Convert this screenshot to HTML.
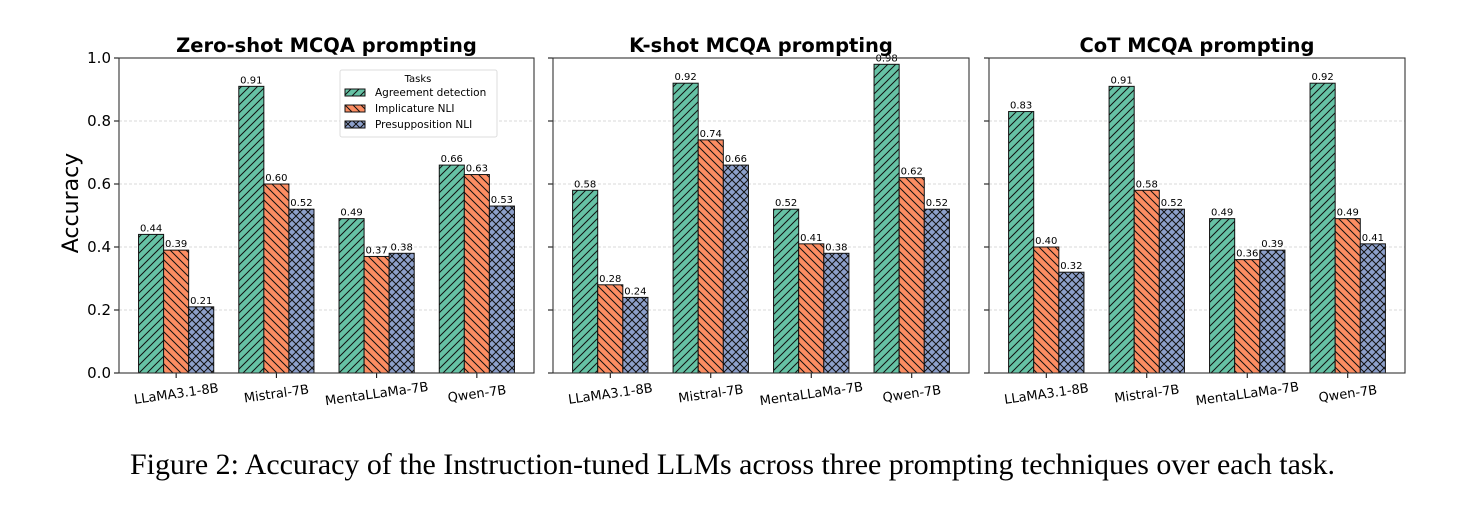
<!DOCTYPE html>
<html><head><meta charset="utf-8"><style>
body{margin:0;background:#fff;width:1459px;height:511px;overflow:hidden}
svg text{font-family:"DejaVu Sans","Liberation Sans",sans-serif}
</style></head><body>
<svg id="c" width="1459" height="511" xmlns="http://www.w3.org/2000/svg">
<defs>
<pattern id="hg" width="8" height="8" patternUnits="userSpaceOnUse"><rect width="8" height="8" fill="#66c2a5"/><path d="M-2,2 L2,-2 M0,8 L8,0 M6,10 L10,6" stroke="#111" stroke-width="1"/></pattern>
<pattern id="ho" width="8" height="8" patternUnits="userSpaceOnUse"><rect width="8" height="8" fill="#fc8d62"/><path d="M-2,6 L2,10 M0,0 L8,8 M6,-2 L10,2" stroke="#111" stroke-width="1"/></pattern>
<pattern id="hb" width="8" height="8" patternUnits="userSpaceOnUse"><rect width="8" height="8" fill="#8da0cb"/><path d="M0,0 L8,8 M0,8 L8,0" stroke="#111" stroke-width="1"/></pattern>
</defs>
</svg>
<script>
const models=["LLaMA3.1-8B","Mistral-7B","MentaLLaMa-7B","Qwen-7B"];
const tasks=["Agreement detection","Implicature NLI","Presupposition NLI"];
const panelTitles=["Zero-shot MCQA prompting","K-shot MCQA prompting","CoT MCQA prompting"];
const zeroShot=[[0.44,0.91,0.49,0.66],[0.39,0.60,0.37,0.63],[0.21,0.52,0.38,0.53]];
const kShot=[[0.58,0.92,0.52,0.98],[0.28,0.74,0.41,0.62],[0.24,0.66,0.38,0.52]];
const cot=[[0.83,0.91,0.49,0.92],[0.40,0.58,0.36,0.49],[0.32,0.52,0.39,0.41]];
const yTicks=[0,0.2,0.4,0.6,0.8,1.0];
const data=[zeroShot,kShot,cot];
const fills=["url(#hg)","url(#ho)","url(#hb)"];
const svg=document.getElementById('c');const NS="http://www.w3.org/2000/svg";
function mk(t,a,p){const e=document.createElementNS(NS,t);for(const k in a)e.setAttribute(k,a[k]);(p||svg).appendChild(e);return e;}
const panelX=[[119,534],[553,969],[989,1405]];
const yTop=58,yBot=373;
const yS=v=>yBot-(yBot-yTop)*v;
panelX.forEach((px,pi)=>{
 const g=mk('g',{});
 
 
 const w=px[1]-px[0];
 const xS=v=>px[0]+(v+0.57)/4.14*w;
 const bw=0.25/4.14*w;
 yTicks.forEach(t=>{
  const l=mk('line',{x1:px[0],x2:px[1],y1:yS(t),y2:yS(t),stroke:'#ccc','stroke-width':0.8,'stroke-dasharray':'3,2'},g);
  
  
  mk('line',{x1:px[0]-5,x2:px[0],y1:yS(t),y2:yS(t),stroke:'#000','stroke-width':1},g);
  if(pi===0){const tx=mk('text',{x:px[0]-8,y:yS(t)+5,'text-anchor':'end','font-size':15},g);tx.textContent=t.toFixed(1);
   
   }
 });
 data[pi].forEach((ser,si)=>{
  ser.forEach((v,mi)=>{
   const cx=xS(mi+(si-1)*0.25);
   const r=mk('rect',{x:cx-bw/2,y:yS(v),width:bw,height:yBot-yS(v),fill:fills[si],stroke:'#111','stroke-width':1},g);
   
   
   const t=mk('text',{x:cx,y:yS(v)-3,'text-anchor':'middle','font-size':10},g);t.textContent=v.toFixed(2);
   
   
  });
 });
 models.forEach((m,mi)=>{
  const x=xS(mi);
  mk('line',{x1:x,x2:x,y1:yBot,y2:yBot+5,stroke:'#000'},g);
  const t=mk('text',{x:x,y:yBot+25,'text-anchor':'middle','font-size':13,transform:`rotate(-8 ${x} ${yBot+20})`},g);t.textContent=m;
  
  
 });
 mk('rect',{x:px[0],y:yTop,width:w,height:yBot-yTop,fill:'none',stroke:'#333','stroke-width':1.1},g);
 const tt=mk('text',{x:(px[0]+px[1])/2,y:52,'text-anchor':'middle','font-size':19.5,'font-weight':'bold'},g);tt.textContent=panelTitles[pi];
 
 
});
const yl=mk('text',{x:78,y:203,'text-anchor':'middle','font-size':22,transform:'rotate(-90 78 203)'});yl.textContent='Accuracy';


const lg=mk('g',{});


mk('rect',{x:340,y:70,width:157,height:67,fill:'#fff',stroke:'#ddd',rx:2},lg);
const lt=mk('text',{x:418,y:82,'text-anchor':'middle','font-size':10},lg);lt.textContent='Tasks';
tasks.forEach((t,i)=>{
 const y=89+i*16;
 const e=mk('g',{},lg);
 
 
 mk('rect',{x:345,y:y,width:20,height:7,fill:fills[i],stroke:'#111','stroke-width':1},e);
 const tx=mk('text',{x:375,y:y+7,'font-size':10.5},e);tx.textContent=t;
});
const cap=mk('text',{x:130,y:474,'font-size':30,textLength:1205,lengthAdjust:'spacingAndGlyphs',style:'font-family:"Liberation Serif",serif'});
cap.textContent='Figure 2: Accuracy of the Instruction-tuned LLMs across three prompting techniques over each task.';


</script>
</body></html>
